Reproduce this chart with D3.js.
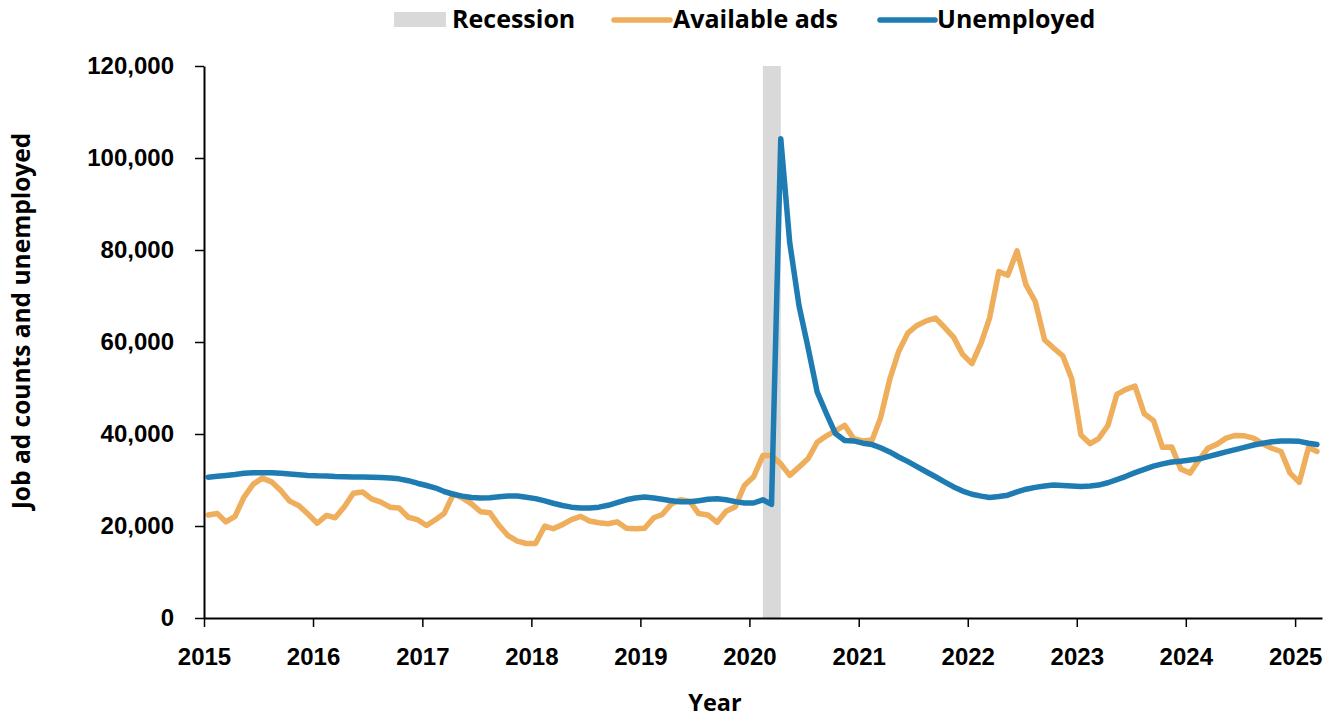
<!DOCTYPE html>
<html>
<head>
<meta charset="utf-8">
<script src="https://cdn.jsdelivr.net/npm/d3@7"></script>
<style>
    html, body { margin: 0; padding: 0; background: #fff; }
    svg { display: block; font-family: "Open Sans", "Noto Sans", sans-serif; }
</style>
</head>
<body>
<div id="chart"></div>
<script>
// Monthly series, Jan 2015 to Mar 2025 (one row per year)
const startYear = 2015;

const adsValues = [
    22400, 22700, 20900, 22100, 26300, 29100, 30400, 29600, 27700, 25400, 24400, 22600,
    20600, 22300, 21800, 24200, 27100, 27400, 25900, 25200, 24100, 23900, 21900, 21400,
    20100, 21400, 22700, 27000, 26100, 24800, 23100, 22900, 20100, 17900, 16700, 16200,
    16200, 20000, 19400, 20300, 21400, 22100, 21100, 20700, 20500, 20900, 19500, 19400,
    19500, 21800, 22500, 24800, 25700, 25400, 22700, 22400, 20800, 23200, 24200, 28800,
    30700, 35300, 35300, 33500, 31000, 32800, 34600, 38200, 39600, 40700, 41900, 39000,
    38500, 38700, 43500, 51900, 58000, 62000, 63600, 64600, 65200, 63200, 61000, 57300,
    55300, 59800, 65200, 75300, 74500, 79800, 72400, 68800, 60500, 58700, 57000, 52000,
    39800, 37900, 39000, 41800, 48600, 49700, 50400, 44400, 42900, 37100, 37200, 32400,
    31500, 34400, 36900, 37800, 39100, 39700, 39600, 39100, 37800, 36900, 36200, 31500,
    29500, 37100, 36200
];

const unemployedValues = [
    30600, 30800, 31000, 31200, 31450, 31550, 31600, 31550, 31450, 31300, 31150, 31000,
    30900, 30850, 30750, 30700, 30650, 30650, 30600, 30550, 30450, 30250, 29850, 29300,
    28800, 28250, 27500, 26900, 26500, 26200, 26100, 26150, 26350, 26500, 26500, 26250,
    25950, 25450, 24950, 24450, 24100, 23900, 23900, 24100, 24500, 25100, 25700, 26100,
    26300, 26100, 25800, 25500, 25250, 25250, 25500, 25800, 25900, 25700, 25300, 25000,
    25000, 25700, 24700, 104200, 81600, 67900, 58900, 49100, 44400, 40100, 38600, 38500,
    38000, 37700, 37000, 36100, 35000, 34000, 32900, 31800, 30700, 29600, 28500, 27600,
    26900, 26500, 26200, 26400, 26700, 27400, 28000, 28400, 28700, 28900, 28800, 28700,
    28600, 28700, 28900, 29400, 30100, 30800, 31600, 32300, 33000, 33500, 33900, 34100,
    34350, 34600, 35100, 35600, 36100, 36600, 37100, 37600, 38000, 38300, 38500, 38500,
    38400, 38000, 37700
];

// recession shading, first and last month (year, month index)
const recession = [[2020, 1], [2020, 3]];

const yearTicks = [2015, 2016, 2017, 2018, 2019, 2020, 2021, 2022, 2023, 2024, 2025];
const valueTicks = [0, 20000, 40000, 60000, 80000, 100000, 120000];

const seriesNames = ["Recession", "Available ads", "Unemployed"];
const seriesColors = ["#d9d9d9", "#eeae5b", "#1f7cb2"];

// plotted at mid-month
const monthDate = i => new Date(Date.UTC(startYear, i, 15));

const width = 1338, height = 719;
const margin = { top: 66, right: 16, bottom: 101, left: 204 };

const svg = d3.select("#chart")
    .append("svg")
    .attr("width", width)
    .attr("height", height);

const x = d3.scaleUtc()
    .domain([new Date(Date.UTC(2015, 0, 1)), new Date(Date.UTC(2025, 3, 1))])
    .range([margin.left, width - margin.right]);

const y = d3.scaleLinear()
    .domain([0, 120000])
    .range([height - margin.bottom, margin.top]);

// recession band
const recStart = x(new Date(Date.UTC(recession[0][0], recession[0][1], 15)));
const recEnd = x(new Date(Date.UTC(recession[1][0], recession[1][1], 15)));
svg.append("rect")
    .attr("x", recStart)
    .attr("y", y(120000))
    .attr("width", recEnd - recStart)
    .attr("height", y(0) - y(120000))
    .attr("fill", seriesColors[0]);

// lines
const line = d3.line()
    .x((d, i) => x(monthDate(i)))
    .y(d => y(d));

[adsValues, unemployedValues].forEach((vals, k) => {
    svg.append("path")
        .datum(vals)
        .attr("d", line)
        .attr("fill", "none")
        .attr("stroke", seriesColors[k + 1])
        .attr("stroke-width", 5.5)
        .attr("stroke-linejoin", "round")
        .attr("stroke-linecap", "round");
});

// Y axis
const yAxis = svg.append("g")
    .attr("transform", `translate(${margin.left},0)`)
    .call(d3.axisLeft(y)
        .tickValues(valueTicks)
        .tickFormat(d3.format(","))
        .tickSize(9)
        .tickSizeOuter(0)
        .tickPadding(21));

// X axis
const xAxis = svg.append("g")
    .attr("transform", `translate(0,${height - margin.bottom})`)
    .call(d3.axisBottom(x)
        .tickValues(yearTicks.map(yr => new Date(Date.UTC(yr, 0, 1))))
        .tickFormat(d3.utcFormat("%Y"))
        .tickSize(9)
        .tickSizeOuter(0)
        .tickPadding(21));

[yAxis, xAxis].forEach(g => {
    g.select(".domain").attr("stroke", "#000").attr("stroke-width", 2);
    g.selectAll(".tick line").attr("stroke", "#000").attr("stroke-width", 1.5);
    g.selectAll(".tick text")
        .attr("fill", "#000")
        .style("font-size", "24px")
        .style("font-weight", 600);
});

// axis titles
svg.append("text")
    .attr("x", 715)
    .attr("y", 711)
    .attr("text-anchor", "middle")
    .style("font-size", "23.5px")
    .style("font-weight", 700)
    .text("Year");

svg.append("text")
    .attr("transform", "translate(30,321) rotate(-90)")
    .attr("text-anchor", "middle")
    .style("font-size", "24.5px")
    .style("font-weight", 700)
    .text("Job ad counts and unemployed");

// legend
const legend = svg.append("g");
legend.append("rect")
    .attr("x", 394).attr("y", 12)
    .attr("width", 52).attr("height", 15)
    .attr("fill", seriesColors[0]);

[[614, 670], [880, 935]].forEach((p, k) => {
    legend.append("line")
        .attr("x1", p[0]).attr("x2", p[1])
        .attr("y1", 20).attr("y2", 20)
        .attr("stroke", seriesColors[k + 1])
        .attr("stroke-width", 5.5)
        .attr("stroke-linecap", "round");
});

[452, 673, 937].forEach((lx, k) => {
    legend.append("text")
        .attr("x", lx)
        .attr("y", 28)
        .style("font-size", "25px")
        .style("font-weight", 700)
        .text(seriesNames[k]);
});
</script>
</body>
</html>
